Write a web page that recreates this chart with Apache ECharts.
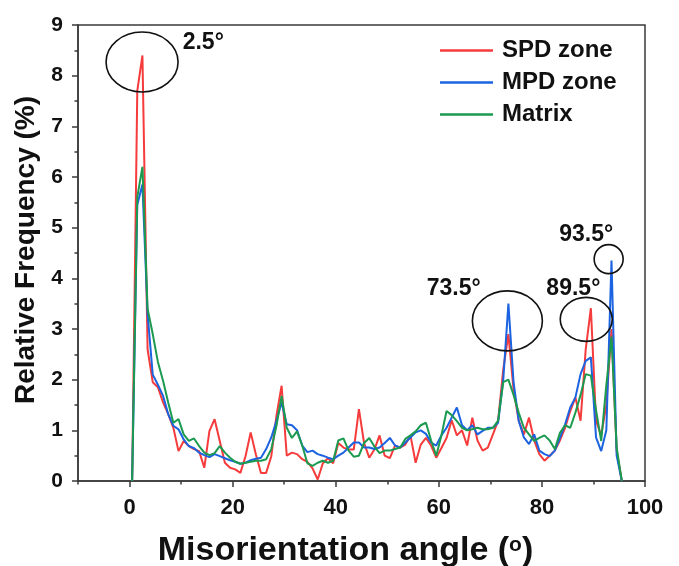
<!DOCTYPE html>
<html>
<head>
<meta charset="utf-8">
<script src="https://cdn.jsdelivr.net/npm/echarts@6/dist/echarts.min.js"></script>
<style>
  html, body { margin: 0; padding: 0; background: #fff; }
  #chart { width: 679px; height: 566px; }
</style>
</head>
<body>
<div id="chart"></div>
<script>
// Misorientation angle bins (degrees)
const angles = [
  0.5, 1.5, 2.5, 3.5, 4.5, 5.5, 6.5, 7.5, 8.5, 9.5,
  10.5, 11.5, 12.5, 13.5, 14.5, 15.5, 16.5, 17.5, 18.5, 19.5,
  20.5, 21.5, 22.5, 23.5, 24.5, 25.5, 26.5, 27.5, 28.5, 29.5,
  30.5, 31.5, 32.5, 33.5, 34.5, 35.5, 36.5, 37.5, 38.5, 39.5,
  40.5, 41.5, 42.5, 43.5, 44.5, 45.5, 46.5, 47.5, 48.5, 49.5,
  50.5, 51.5, 52.5, 53.5, 54.5, 55.5, 56.5, 57.5, 58.5, 59.5,
  60.5, 61.5, 62.5, 63.5, 64.5, 65.5, 66.5, 67.5, 68.5, 69.5,
  70.5, 71.5, 72.5, 73.5, 74.5, 75.5, 76.5, 77.5, 78.5, 79.5,
  80.5, 81.5, 82.5, 83.5, 84.5, 85.5, 86.5, 87.5, 88.5, 89.5,
  90.5, 91.5, 92.5, 93.5, 94.5, 95.5
];

// Relative frequency (%) per bin
const spdZone = [
  0, 7.7, 8.4, 2.6, 1.95, 1.85, 1.55, 1.32, 1.05, 0.59,
  0.79, 0.69, 0.63, 0.59, 0.26, 0.99, 1.22, 0.79, 0.36, 0.26,
  0.23, 0.16, 0.49, 0.96, 0.53, 0.16, 0.16, 0.49, 1.29, 1.88,
  0.5, 0.56, 0.53, 0.43, 0.38, 0.25, 0.03, 0.35, 0.45, 0.35,
  0.75, 0.66, 0.62, 0.62, 1.42, 0.75, 0.46, 0.62, 0.9, 0.5,
  0.45, 0.7, 0.66, 0.72, 0.9, 0.36, 0.72, 0.85, 0.7, 0.46,
  0.65, 0.85, 1.2, 0.9, 1.0, 0.7, 1.25, 0.8, 0.6, 0.66,
  0.92, 1.19, 2.2, 2.9, 1.8, 1.19, 0.92, 1.25, 0.8, 0.53,
  0.4, 0.5, 0.6, 0.8, 1.05, 1.38, 1.65, 1.19, 2.6, 3.41,
  1.19, 0.9, 1.5, 3.0, 0.6, 0
];

const mpdZone = [
  0, 5.45, 5.85, 3.3, 2.1, 1.9, 1.68, 1.32, 1.09, 1.02,
  0.82, 0.69, 0.65, 0.56, 0.51, 0.47, 0.53, 0.49, 0.45, 0.41,
  0.38, 0.34, 0.36, 0.41, 0.44, 0.46, 0.63, 0.86, 1.19, 1.55,
  1.12, 1.1, 1.0, 0.7, 0.57, 0.6, 0.53, 0.5, 0.46, 0.43,
  0.5, 0.56, 0.66, 0.76, 0.76, 0.66, 0.66, 0.63, 0.66, 0.75,
  0.85, 0.7, 0.66, 0.76, 0.86, 0.96, 1.0, 0.93, 0.76, 0.7,
  0.9, 1.05, 1.25, 1.45, 1.1, 1.0, 1.1, 0.92, 0.99, 1.05,
  1.05, 1.15, 2.0, 3.5, 1.95, 1.19, 0.86, 0.73, 0.92, 0.6,
  0.53, 0.49, 0.6, 0.85, 1.12, 1.45, 1.65, 2.11, 2.37, 2.44,
  0.86, 0.59, 1.0, 4.35, 0.5, 0
];

const matrix = [
  0, 5.6, 6.2, 3.4, 2.9, 2.35, 1.98, 1.55, 1.15, 1.22,
  0.92, 0.79, 0.84, 0.69, 0.56, 0.51, 0.55, 0.69, 0.56, 0.46,
  0.38, 0.34, 0.36, 0.38, 0.4, 0.4, 0.43, 0.63, 1.09, 1.68,
  1.05, 0.85, 0.98, 0.7, 0.35, 0.3, 0.36, 0.4, 0.36, 0.4,
  0.8, 0.84, 0.6, 0.48, 0.5, 0.75, 0.85, 0.68, 0.55, 0.6,
  0.6, 0.63, 0.66, 0.83, 0.9, 0.98, 1.1, 1.15, 0.8, 0.5,
  0.9, 1.38, 1.3, 1.18, 1.05, 1.0, 1.02, 1.05, 1.02, 1.02,
  1.05, 1.19, 1.95, 2.0, 1.7, 1.35, 1.05, 0.92, 0.79, 0.85,
  0.9, 0.8, 0.63, 0.95, 1.1, 1.05, 1.35, 1.7, 2.11, 2.08,
  1.4, 0.79, 1.9, 2.85, 0.66, 0
];

const seriesNames = ['SPD zone', 'MPD zone', 'Matrix'];
const seriesColors = ['#f53b3b', '#1b63e0', '#1b9a50'];

// Axis ticks
const xLabelTicks = [0, 20, 40, 60, 80, 100];
const xMinorTicks = [-10, 10, 30, 50, 70, 90];

// Highlighted peaks: label, label anchor [angle, freq], ring anchor [angle, freq]
const peakLabels = ['2.5°', '73.5°', '89.5°', '93.5°'];
const peakLabelAt = [[14.3, 8.66], [62.9, 3.8], [86.1, 3.8], [88.6, 4.87]];
const peakRingAt = [[2.43, 8.27], [73.3, 3.16], [88.6, 3.19], [92.95, 4.38]];

const FONT = "'Liberation Sans', Arial, sans-serif";
const AXIS_COLOR = '#3a3a3a';

function pairs(ys) {
  return angles.map((a, i) => [a, ys[i]]);
}

const chart = echarts.init(document.getElementById('chart'));

chart.setOption({
  animation: false,
  backgroundColor: '#fff',
  grid: {
    left: 78, right: 34, top: 25, bottom: 85,
    outerBoundsMode: 'none',
    containLabel: false,
    show: true, borderColor: AXIS_COLOR, borderWidth: 1.5
  },
  legend: {
    orient: 'vertical',
    left: 440, top: 38,
    padding: 0,
    icon: 'rect',
    itemWidth: 53, itemHeight: 2.5, itemGap: 7,
    textStyle: { fontFamily: FONT, fontWeight: 'bold', fontSize: 24, color: '#111', padding: [0, 0, 0, 4], lineHeight: 25 },
    data: seriesNames
  },
  xAxis: [
    {
      type: 'value', min: -10, max: 100,
      position: 'bottom',
      name: 'Misorientation angle ({s|o})',
      nameLocation: 'middle', nameGap: 53,
      nameTextStyle: {
        fontFamily: FONT, fontWeight: 'bold', fontSize: 34, color: '#111',
        padding: [0, 32, 0, 0],
        rich: { s: { fontFamily: FONT, fontWeight: 'bold', fontSize: 21, color: '#111', padding: [0, 0, 12, 0] } }
      },
      axisLine: { show: true, onZero: false, lineStyle: { color: AXIS_COLOR, width: 1.5 } },
      axisTick: { show: true, customValues: xLabelTicks, length: 6, lineStyle: { color: AXIS_COLOR, width: 1.5 } },
      axisLabel: { customValues: xLabelTicks, margin: 16, fontFamily: FONT, fontWeight: 'bold', fontSize: 22, color: '#111' },
      splitLine: { show: false }
    },
    {
      type: 'value', min: -10, max: 100,
      position: 'bottom',
      axisLine: { show: false, onZero: false },
      axisTick: { show: true, customValues: xMinorTicks, length: 3.5, lineStyle: { color: AXIS_COLOR, width: 1.5 } },
      axisLabel: { show: false },
      splitLine: { show: false }
    }
  ],
  yAxis: {
    type: 'value', min: 0, max: 9, interval: 1,
    name: 'Relative Frequency (%)',
    nameLocation: 'middle', nameGap: 30,
    nameTextStyle: { fontFamily: FONT, fontWeight: 'bold', fontSize: 28, color: '#111', padding: [0, 0, 0, 6] },
    axisLine: { show: true, onZero: false, lineStyle: { color: AXIS_COLOR, width: 1.5 } },
    axisTick: { show: true, length: 6, lineStyle: { color: AXIS_COLOR, width: 1.5 } },
    minorTick: { show: true, splitNumber: 2, length: 3.5, lineStyle: { color: AXIS_COLOR, width: 1.5 } },
    axisLabel: { margin: 15, fontFamily: FONT, fontWeight: 'bold', fontSize: 21, color: '#111' },
    splitLine: { show: false }
  },
  series: [spdZone, mpdZone, matrix].map((ys, i) => ({
    name: seriesNames[i],
    type: 'line',
    xAxisIndex: 0,
    data: pairs(ys),
    symbol: 'none',
    color: seriesColors[i],
    lineStyle: { width: 2, color: seriesColors[i] },
    z: 2 + i
  }))
});

// Peak call-outs: rings and angle labels placed in data coordinates
const finder = { xAxisIndex: 0, yAxisIndex: 0 };
const ringRadii = [[36, 30], [35, 30], [26, 22], [14.5, 14.5]];
const graphics = [];
peakLabels.forEach((label, i) => {
  const c = chart.convertToPixel(finder, peakRingAt[i]);
  const t = chart.convertToPixel(finder, peakLabelAt[i]);
  graphics.push({
    type: 'ellipse',
    shape: { cx: c[0], cy: c[1], rx: ringRadii[i][0], ry: ringRadii[i][1] },
    style: { fill: 'none', stroke: '#111', lineWidth: 1.6 },
    z: 10
  });
  graphics.push({
    type: 'text',
    x: t[0], y: t[1],
    style: {
      text: label, fill: '#111',
      font: "bold 23px " + FONT,
      align: 'center', verticalAlign: 'middle'
    },
    z: 10
  });
});
chart.setOption({ graphic: graphics });
</script>
</body>
</html>
